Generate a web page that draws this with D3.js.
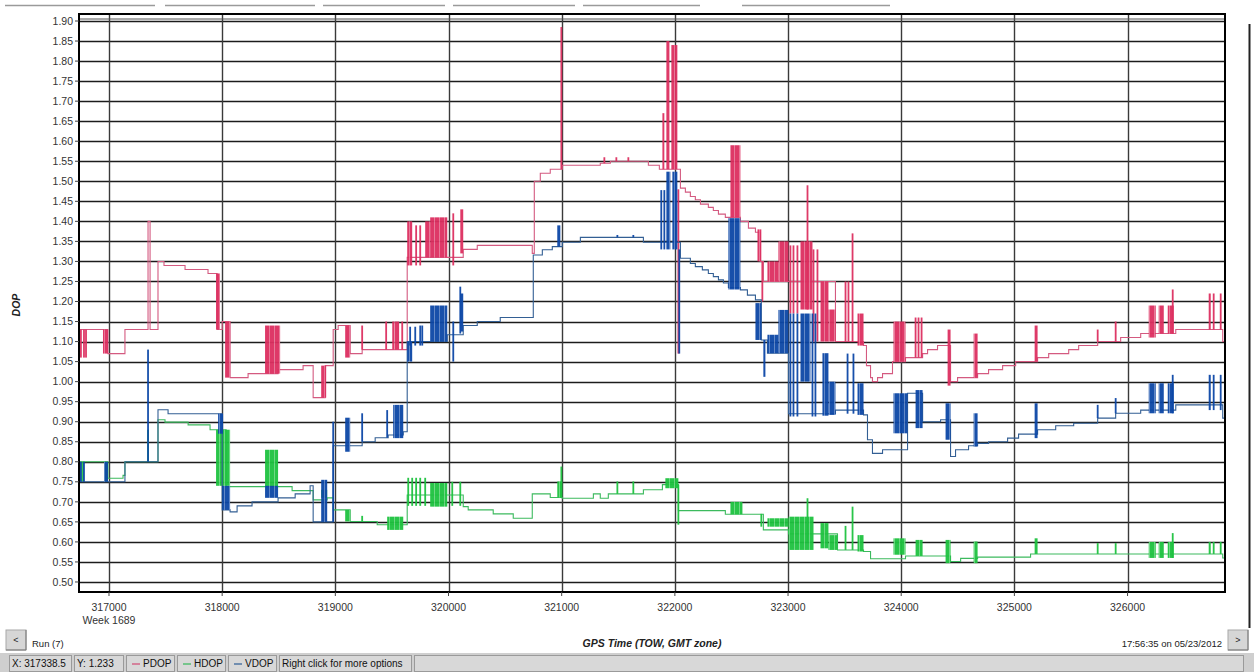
<!DOCTYPE html>
<html>
<head>
<meta charset="utf-8">
<script src="https://cdn.jsdelivr.net/npm/d3@7"></script>
<style>
  body { margin: 0; background: #fff; overflow: hidden; }
  svg { display: block; font-family: "Liberation Sans", Arial, sans-serif; }
</style>
</head>
<body>
<svg id="chart" width="1254" height="672"></svg>
<script>
// tick labels
const yTicks = ["0.50","0.55","0.60","0.65","0.70","0.75","0.80","0.85","0.90","0.95","1.00","1.05","1.10","1.15","1.20","1.25","1.30","1.35","1.40","1.45","1.50","1.55","1.60","1.65","1.70","1.75","1.80","1.85","1.90"];
const xTicks = [317000, 318000, 319000, 320000, 321000, 322000, 323000, 324000, 325000, 326000];

// step series: [TOW, DOP] (value holds until the next point)
const pdopSteps = [
  [316735,1.13],[316991,1.07],[317141,1.13],[317345,1.40],[317363,1.13],[317433,1.30],[317486,1.29],
  [317672,1.28],[317875,1.27],[317955,1.13],[318000,1.15],[318070,1.01],[318229,1.02],[318494,1.03],
  [318715,1.04],[318804,0.96],[318910,1.04],[318981,1.13],[319025,1.14],[319131,1.07],[319237,1.08],
  [319635,1.31],[320130,1.33],[320254,1.34],[320740,1.32],[320758,1.50],[320811,1.52],[320899,1.53],
  [321005,1.54],[321341,1.545],[321430,1.55],[321766,1.54],[321863,1.53],[322049,1.483],[322093,1.473],
  [322137,1.462],[322181,1.454],[322226,1.443],[322296,1.435],[322340,1.427],[322385,1.418],[322446,1.41],
  [322579,1.40],[322650,1.383],[322712,1.373],[322756,1.30],[322782,1.25],[323419,1.10],[323667,1.09],
  [323693,1.04],[323729,1.01],[323746,1.00],[323791,1.01],[323835,1.02],[323923,1.05],[324038,1.06],
  [324189,1.07],[324233,1.08],[324321,1.09],[324436,1.00],[324498,1.01],[324675,1.02],[324772,1.03],
  [324896,1.04],[325011,1.05],[325205,1.06],[325303,1.07],[325480,1.08],[325568,1.09],[325736,1.10],
  [325939,1.11],[326116,1.12],[326426,1.13],[326841,1.10],[326861,1.10]
];
const hdopSteps = [
  [316735,0.80],[316991,0.759],[317124,0.766],[317141,0.80],[317433,0.905],[317495,0.899],[317699,0.892],
  [317893,0.88],[318035,0.738],[318618,0.728],[318804,0.705],[318928,0.71],[318981,0.68],[319131,0.651],
  [319370,0.643],[319635,0.717],[320130,0.688],[320174,0.68],[320395,0.67],[320572,0.659],[320740,0.72],
  [320899,0.711],[321005,0.709],[321280,0.72],[321341,0.709],[321412,0.72],[321722,0.73],[321890,0.743],
  [322031,0.678],[322446,0.669],[322782,0.63],[323004,0.62],[323437,0.58],[323667,0.576],[323729,0.558],
  [324038,0.565],[324436,0.551],[324525,0.559],[324675,0.562],[325143,0.57],[326841,0.56],[326861,0.56]
];
const vdopSteps = [
  [316735,0.75],[317141,0.80],[317433,0.93],[317522,0.92],[318000,0.68],[318070,0.675],[318132,0.69],
  [318264,0.70],[318494,0.71],[318645,0.72],[318777,0.74],[318804,0.65],[318981,0.84],[319237,0.85],
  [319352,0.86],[319467,0.867],[319600,0.875],[319635,1.10],[319989,1.117],[320130,1.14],[320254,1.15],
  [320457,1.16],[320749,1.316],[320829,1.329],[320917,1.337],[321005,1.348],[321165,1.36],[321722,1.348],
  [322049,1.308],[322137,1.295],[322181,1.287],[322243,1.279],[322296,1.27],[322340,1.262],[322385,1.254],
  [322429,1.246],[322473,1.235],[322579,1.229],[322641,1.216],[322712,1.204],[322764,1.104],[322818,1.071],
  [323004,0.92],[323419,0.929],[323667,0.917],[323702,0.855],[323746,0.821],[323835,0.83],[324056,0.971],
  [324189,0.90],[324348,0.905],[324436,0.813],[324480,0.83],[324595,0.84],[324675,0.846],[324772,0.85],
  [324940,0.859],[325037,0.869],[325205,0.88],[325365,0.89],[325524,0.896],[325736,0.909],[325895,0.921],
  [326116,0.929],[326426,0.942],[326841,0.909],[326861,0.909]
];

// dense switching bursts: [TOW start, TOW end, low DOP, high DOP]
const pdopBursts = [
  [316752,316752,1.06,1.13],[316779,316779,1.06,1.13],[316797,316797,1.06,1.13],[316947,316991,1.07,1.13],
  [317946,317981,1.13,1.27],[318026,318070,1.01,1.15],[318379,318512,1.02,1.14],[318875,318919,0.96,1.04],
  [319087,319131,1.06,1.14],[319237,319237,1.08,1.14],[319449,319449,1.08,1.15],[319511,319511,1.08,1.15],
  [319520,319564,1.08,1.15],[319591,319591,1.08,1.15],[319635,319679,1.29,1.40],[319714,319714,1.29,1.39],
  [319750,319750,1.29,1.39],[319794,319838,1.31,1.40],[319838,319989,1.31,1.41],[320042,320042,1.29,1.42],
  [320104,320130,1.32,1.43],[320997,320997,1.53,1.885],[321377,321377,1.545,1.56],[321483,321483,1.55,1.56],
  [321589,321589,1.55,1.56],[321890,321907,1.53,1.67],[321925,321952,1.53,1.85],[321969,322022,1.53,1.84],
  [322031,322031,1.07,1.48],[322491,322579,1.41,1.59],[322730,322764,1.30,1.38],[322773,322773,1.20,1.30],
  [322818,322915,1.25,1.30],[322915,323004,1.25,1.35],[323021,323021,1.17,1.34],[323048,323048,1.17,1.34],
  [323083,323083,1.17,1.34],[323110,323216,1.18,1.35],[323172,323172,1.18,1.49],[323225,323225,1.10,1.33],
  [323260,323260,1.10,1.33],[323287,323357,1.10,1.25],[323357,323419,1.10,1.18],[323508,323508,1.10,1.25],
  [323534,323534,1.10,1.25],[323570,323570,1.10,1.37],[323614,323667,1.09,1.17],[323932,324038,1.05,1.15],
  [324127,324127,1.06,1.16],[324153,324153,1.06,1.16],[324180,324180,1.06,1.16],[324410,324436,0.99,1.13],
  [324640,324675,1.01,1.12],[325179,325205,1.05,1.14],[325736,325736,1.10,1.13],[325895,325895,1.10,1.15],
  [326187,326249,1.11,1.19],[326275,326320,1.12,1.19],[326355,326408,1.12,1.19],[326399,326399,1.12,1.23],
  [326717,326735,1.13,1.22],[326761,326761,1.13,1.22],[326823,326823,1.13,1.22]
];
const hdopBursts = [
  [316752,316752,0.75,0.80],[316770,316770,0.75,0.80],[316956,316991,0.75,0.80],[317345,317345,0.80,0.88],
  [317946,318070,0.74,0.88],[318379,318494,0.738,0.83],[318875,318928,0.71,0.73],[319087,319131,0.651,0.68],
  [319237,319237,0.651,0.665],[319458,319600,0.63,0.663],[319644,319644,0.69,0.76],[319679,319679,0.69,0.76],
  [319714,319714,0.69,0.76],[319750,319750,0.69,0.76],[319794,319794,0.69,0.76],[319838,319989,0.688,0.747],
  [320033,320033,0.69,0.75],[320104,320104,0.69,0.75],[320961,321005,0.711,0.751],[320997,320997,0.711,0.788],
  [321492,321492,0.72,0.751],[321633,321633,0.72,0.751],[321916,322031,0.734,0.759],[322031,322031,0.643,0.743],
  [322491,322597,0.669,0.70],[322756,322764,0.638,0.67],[322818,323004,0.638,0.659],[323004,323225,0.58,0.663],
  [323172,323172,0.60,0.709],[323287,323357,0.584,0.647],[323357,323437,0.58,0.617],[323508,323508,0.58,0.64],
  [323570,323570,0.58,0.688],[323614,323667,0.576,0.617],[323932,324038,0.568,0.609],[324127,324189,0.565,0.605],
  [324392,324436,0.547,0.605],[324640,324675,0.547,0.601],[325179,325205,0.57,0.609],[325736,325736,0.57,0.597],
  [325895,325895,0.57,0.597],[326187,326249,0.56,0.60],[326275,326320,0.56,0.60],[326355,326408,0.56,0.60],
  [326399,326399,0.56,0.622],[326717,326735,0.57,0.60],[326761,326761,0.57,0.60],[326823,326823,0.57,0.60]
];
const vdopBursts = [
  [316752,316752,0.75,0.80],[316779,316779,0.75,0.80],[316956,316991,0.75,0.80],[317345,317345,0.80,1.08],
  [317964,318008,0.87,0.92],[318000,318070,0.68,0.74],[318379,318494,0.71,0.74],[318875,318928,0.65,0.755],
  [318981,318981,0.65,0.90],[319087,319131,0.825,0.91],[319237,319237,0.85,0.921],[319458,319458,0.86,0.929],
  [319511,319600,0.859,0.942],[319635,319679,1.05,1.10],[319661,319661,1.09,1.137],[319706,319706,1.09,1.137],
  [319750,319750,1.09,1.14],[319768,319768,1.09,1.14],[319838,319989,1.10,1.19],[320042,320042,1.05,1.15],
  [320104,320130,1.125,1.22],[320104,320104,1.12,1.237],[320961,320988,1.337,1.39],[321492,321492,1.36,1.366],
  [321633,321633,1.36,1.366],[321880,321880,1.33,1.478],[321907,321907,1.33,1.478],[321925,321960,1.33,1.524],
  [321978,322022,1.33,1.524],[322031,322040,1.07,1.33],[322473,322579,1.23,1.408],[322712,322764,1.104,1.196],
  [322782,322800,1.012,1.104],[322818,322915,1.071,1.117],[322915,323004,1.071,1.179],[323021,323021,0.913,1.17],
  [323048,323048,0.913,1.17],[323083,323083,0.913,1.17],[323110,323198,1.00,1.17],[323216,323216,0.913,1.17],
  [323242,323242,0.913,1.17],[323304,323357,0.915,1.071],[323357,323419,0.917,1.00],[323526,323526,0.92,1.07],
  [323578,323578,0.92,1.07],[323614,323667,0.917,0.996],[323932,324056,0.871,0.971],[324127,324189,0.884,0.979],
  [324392,324436,0.855,0.946],[324640,324675,0.838,0.921],[325179,325205,0.859,0.946],[325736,325736,0.909,0.942],
  [325895,325895,0.921,0.959],[326187,326249,0.921,0.996],[326275,326320,0.921,0.996],[326355,326408,0.921,0.996],
  [326399,326399,0.921,1.017],[326717,326735,0.929,1.017],[326761,326761,0.929,1.017],[326823,326823,0.929,1.017]
];

const series = [
  { name: "PDOP", steps: pdopSteps, bursts: pdopBursts, line: "#d45a80", fill: "#dc2f60" },
  { name: "HDOP", steps: hdopSteps, bursts: hdopBursts, line: "#3cba5e", fill: "#1ec23f" },
  { name: "VDOP", steps: vdopSteps, bursts: vdopBursts, line: "#335f94", fill: "#0c47a6" }
];

const svg = d3.select("#chart");
const W = 1254, H = 672;
const plot = { left: 79, right: 1225, top: 14, bottom: 592 };

svg.append("rect").attr("width", W).attr("height", H).attr("fill", "#fff");

// striped fill: the dense blocks are many close vertical transitions
const defs = svg.append("defs");
series.forEach(s => {
  const p = defs.append("pattern").attr("id", "burst-" + s.name)
    .attr("patternUnits", "userSpaceOnUse").attr("width", 5).attr("height", 6);
  p.append("rect").attr("width", 5).attr("height", 6).attr("fill", s.fill);
  p.append("rect").attr("x", 4.2).attr("width", 0.8).attr("height", 6).attr("fill", "#fff").attr("opacity", 0.4);
});

const x = d3.scaleLinear().domain([316735, 326861]).range([plot.left, plot.right]);
const y = d3.scaleLinear().domain([0.475, 1.9175]).range([plot.bottom, plot.top]);

// faint tab strip at the very top
const tabs = [[5,155],[165,315],[323,445],[453,575],[583,700],[742,890]];
svg.append("g").selectAll("line").data(tabs).join("line")
  .attr("x1", d => d[0]).attr("x2", d => d[1]).attr("y1", 5.5).attr("y2", 5.5)
  .attr("stroke", "#9a9a9a").attr("stroke-width", 1.5);

// grid
const grid = svg.append("g");
grid.selectAll("line.h").data(yTicks).join("line").attr("class", "h")
  .attr("x1", plot.left).attr("x2", plot.right)
  .attr("y1", d => Math.round(y(+d)) + 0.5).attr("y2", d => Math.round(y(+d)) + 0.5)
  .attr("stroke", "#1c1c1c").attr("stroke-width", 1.3);
grid.selectAll("line.v").data(xTicks).join("line").attr("class", "v")
  .attr("x1", d => Math.round(x(d)) + 0.5).attr("x2", d => Math.round(x(d)) + 0.5)
  .attr("y1", plot.top).attr("y2", plot.bottom)
  .attr("stroke", "#3a3a3a").attr("stroke-width", 1.4);
// second line under the top border
grid.append("line").attr("x1", plot.left).attr("x2", plot.right)
  .attr("y1", y(1.9) - 2).attr("y2", y(1.9) - 2).attr("stroke", "#555").attr("stroke-width", 1);

// series
const stepLine = d3.line().x(d => x(d[0])).y(d => y(d[1])).curve(d3.curveStepAfter);
const chartArea = svg.append("g");
series.forEach(s => {
  const g = chartArea.append("g");
  g.append("path").datum(s.steps).attr("d", stepLine)
    .attr("fill", "none").attr("stroke", s.line).attr("stroke-width", 1.1);
  g.selectAll("rect").data(s.bursts).join("rect")
    .attr("x", d => d[1] > d[0] ? x(d[0]) : x(d[0]) - 0.9)
    .attr("width", d => Math.max(1.8, x(d[1]) - x(d[0])))
    .attr("y", d => y(d[3]))
    .attr("height", d => y(d[2]) - y(d[3]))
    .attr("fill", d => (x(d[1]) - x(d[0]) > 3.5) ? `url(#burst-${s.name})` : s.fill)
    .attr("opacity", 0.95);
});

// frame
svg.append("rect").attr("x", plot.left).attr("y", plot.top)
  .attr("width", plot.right - plot.left).attr("height", plot.bottom - plot.top)
  .attr("fill", "none").attr("stroke", "#000").attr("stroke-width", 2);

// y axis
const yAxis = svg.append("g").attr("font-size", 10.5).attr("fill", "#333");
yAxis.selectAll("line").data(yTicks).join("line")
  .attr("x1", plot.left - 4).attr("x2", plot.left)
  .attr("y1", d => y(+d)).attr("y2", d => y(+d)).attr("stroke", "#444");
yAxis.selectAll("text").data(yTicks).join("text")
  .attr("x", plot.left - 6).attr("y", d => y(+d)).attr("dy", "0.35em")
  .attr("text-anchor", "end").text(d => d);

// x axis
const xAxis = svg.append("g").attr("font-size", 10.5).attr("fill", "#333");
xAxis.selectAll("line").data(xTicks).join("line")
  .attr("x1", d => x(d)).attr("x2", d => x(d))
  .attr("y1", plot.bottom).attr("y2", plot.bottom + 4).attr("stroke", "#444");
xAxis.selectAll("text").data(xTicks).join("text")
  .attr("x", d => x(d)).attr("y", 611).attr("text-anchor", "middle").text(d => d);
xAxis.append("text").attr("x", x(317000)).attr("y", 624).attr("text-anchor", "middle").text("Week 1689");

// titles
svg.append("text").attr("transform", "translate(20,305) rotate(-90)")
  .attr("text-anchor", "middle").attr("font-size", 10.5).attr("font-weight", "bold")
  .attr("font-style", "italic").attr("fill", "#222").text("DOP");
svg.append("text").attr("x", (plot.left + plot.right) / 2).attr("y", 647)
  .attr("text-anchor", "middle").attr("font-size", 10.5).attr("font-weight", "bold")
  .attr("font-style", "italic").attr("fill", "#222").text("GPS Time (TOW, GMT zone)");

// navigation buttons and footer texts
function button(bx, label) {
  const b = svg.append("g");
  b.append("rect").attr("x", bx).attr("y", 630).attr("width", 20).attr("height", 20)
    .attr("fill", "#d6d6d6").attr("stroke", "#a8a8a8");
  b.append("line").attr("x1", bx + 20).attr("x2", bx + 20).attr("y1", 630).attr("y2", 650).attr("stroke", "#777");
  b.append("line").attr("x1", bx).attr("x2", bx + 20).attr("y1", 650).attr("y2", 650).attr("stroke", "#777");
  b.append("text").attr("x", bx + 10).attr("y", 643).attr("text-anchor", "middle")
    .attr("font-size", 9).attr("fill", "#222").text(label);
}
button(6, "<");
button(1228, ">");
svg.append("text").attr("x", 32).attr("y", 647).attr("font-size", 9.5).attr("fill", "#222").text("Run (7)");
svg.append("text").attr("x", 1222).attr("y", 647).attr("text-anchor", "end")
  .attr("font-size", 9.5).attr("fill", "#222").text("17:56:35 on 05/23/2012");

// right window edge
svg.append("line").attr("x1", 1249.5).attr("x2", 1249.5).attr("y1", 24).attr("y2", 628)
  .attr("stroke", "#222").attr("stroke-width", 2);

// status bar
const statusItems = [
  { x: 9, w: 62, text: "X: 317338.5" },
  { x: 74, w: 49, text: "Y: 1.233" },
  { x: 126, w: 48, text: "PDOP", color: "#d24a75" },
  { x: 177, w: 48, text: "HDOP", color: "#35b95a" },
  { x: 228, w: 48, text: "VDOP", color: "#2d5d96" },
  { x: 279, w: 132, text: "Right click for more options" },
  { x: 414, w: 829, text: "" }
];
svg.append("rect").attr("x", 0).attr("y", 653).attr("width", W).attr("height", 19).attr("fill", "#cfcfcf");
const sb = svg.append("g").attr("font-size", 10).attr("fill", "#111");
statusItems.forEach(it => {
  sb.append("rect").attr("x", it.x + 0.5).attr("y", 655.5).attr("width", it.w).attr("height", 16)
    .attr("fill", "#d8d8d8").attr("stroke", "#9a9a9a");
  let tx = it.x + 3;
  if (it.color) {
    sb.append("line").attr("x1", it.x + 6).attr("x2", it.x + 14).attr("y1", 664).attr("y2", 664)
      .attr("stroke", it.color).attr("stroke-width", 1.2);
    tx = it.x + 17;
  }
  sb.append("text").attr("x", tx).attr("y", 667).text(it.text);
});
</script>
</body>
</html>
